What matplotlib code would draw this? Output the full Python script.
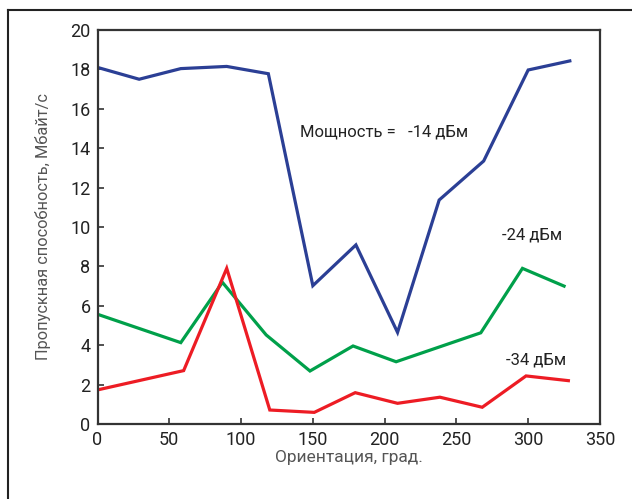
import matplotlib
matplotlib.use("Agg")
import matplotlib.pyplot as plt
from matplotlib.lines import Line2D

# Data (orientation in degrees, throughput in Mbit/s)
x_blue = [0, 29, 58, 90, 119, 150, 180, 209, 238, 269, 300, 329]
y_blue = [18.1, 17.5, 18.04, 18.15, 17.78, 7.02, 9.09, 4.65, 11.37, 13.35, 17.97, 18.43]

x_green = [0, 58, 87, 117.5, 148, 178, 208, 267, 296, 325]
y_green = [5.57, 4.13, 7.19, 4.52, 2.69, 3.96, 3.16, 4.63, 7.9, 7.0]

x_red = [0, 60, 90, 120, 151, 179.5, 209, 238.5, 268, 298.5, 328]
y_red = [1.73, 2.71, 7.9, 0.71, 0.59, 1.59, 1.05, 1.36, 0.85, 2.44, 2.2]

xticks = [0, 50, 100, 150, 200, 250, 300, 350]
yticks = [0, 2, 4, 6, 8, 10, 12, 14, 16, 18, 20]

labels = ["Мощность =   -14 дБм", "-24 дБм", "-34 дБм"]
xlabel = "Ориентация, град."
ylabel = "Пропускная способность, Мбайт/с"

plt.rcParams['font.family'] = ['Roboto', 'DejaVu Sans']

fig = plt.figure(figsize=(6.32, 4.99), dpi=100)
ax = fig.add_axes([0.1543, 0.1503, 0.795, 0.7896])

ax.plot(x_blue, y_blue, color='#2B3F95', lw=2.3, solid_joinstyle='miter')
ax.plot(x_green, y_green, color='#00A04A', lw=2.3, solid_joinstyle='miter')
ax.plot(x_red, y_red, color='#ED1C24', lw=2.3, solid_joinstyle='miter')

ax.set_xlim(0, 350)
ax.set_ylim(0, 20)
ax.set_xticks(xticks)
ax.set_yticks(yticks)
ax.tick_params(direction='in', length=4, width=1.2, color='#333333',
               labelsize=13, labelcolor='#222222', pad=5)
for s in ax.spines.values():
    s.set_linewidth(1.6)
    s.set_color('#333333')

ax.set_xlabel(xlabel, fontsize=12.5, color='#555555', labelpad=1)
ax.set_ylabel(ylabel, fontsize=11.8, color='#555555', labelpad=14)

ax.text(141, 14.8, labels[0], fontsize=12, color='#222222', va='center', ha='left')
ax.text(282, 9.6, labels[1], fontsize=12, color='#222222', va='center', ha='left')
ax.text(284.5, 3.25, labels[2], fontsize=12, color='#222222', va='center', ha='left')

# outer frame (left and top edges)
fig.add_artist(Line2D([8/632, 8/632], [0, 1 - 9.5/499], transform=fig.transFigure,
                      color='#222222', lw=1.5))
fig.add_artist(Line2D([8/632, 1], [1 - 9.5/499, 1 - 9.5/499], transform=fig.transFigure,
                      color='#222222', lw=1.5))

fig.savefig("out.png", dpi=100)
